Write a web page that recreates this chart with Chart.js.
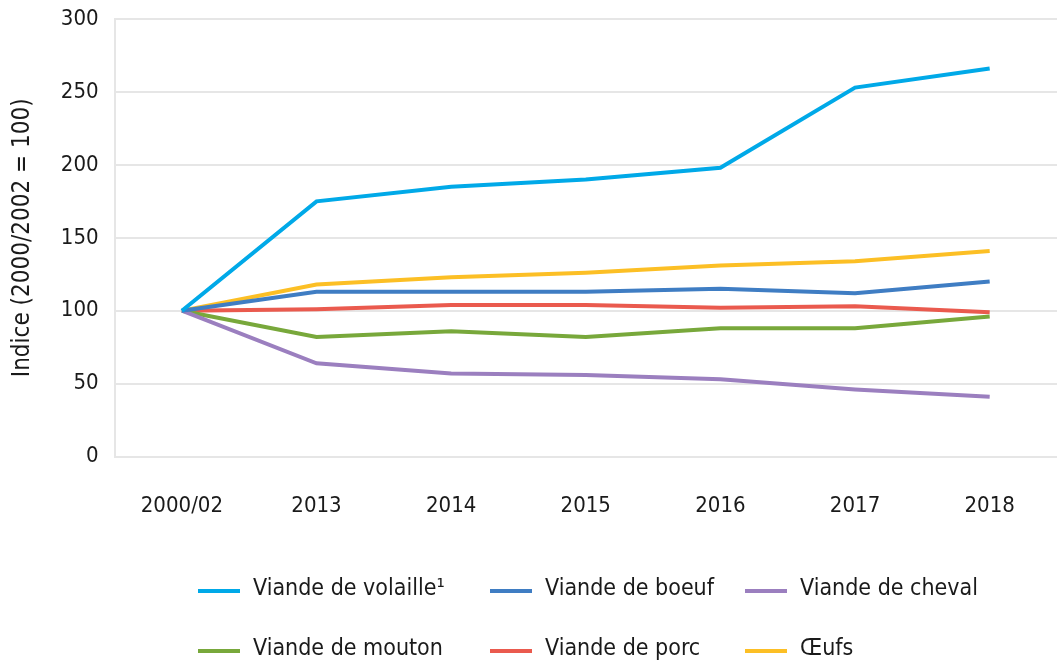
<!DOCTYPE html>
<html><head><meta charset="utf-8">
<script src="https://cdn.jsdelivr.net/npm/chart.js@4"></script>
<style>html,body{margin:0;padding:0;background:#fff;}#wrap{width:1057px;height:666px;position:relative;}</style>
</head><body>
<div id="wrap"><canvas id="c" width="1057" height="666"></canvas></div>
<script>
const categories = ['2000/02','2013','2014','2015','2016','2017','2018'];
const seriesNames = ['Viande de volaille\u00b9','Viande de boeuf','Viande de cheval','Viande de mouton','Viande de porc','\u0152ufs'];
const volaille = [100,175,185,190,198,253,266];
const boeuf = [100,113,113,113,115,112,120];
const cheval = [100,64,57,56,53,46,41];
const mouton = [100,82,86,82,88,88,96];
const porc = [100,101,104,104,102,103,99];
const oeufs = [100,118,123,126,131,134,141];
const yTicks = [0,50,100,150,200,250,300];
const colors = ['#00a9e8','#3f7dc3','#9b7fbf','#78a83b','#ea5a4e','#fcbf25'];
const FONT = "'Liberation Sans Narrow','DejaVu Sans Condensed',sans-serif";

const allSeries = [volaille,boeuf,cheval,mouton,porc,oeufs];
const datasets = allSeries.map((d,i)=>({label:seriesNames[i],data:d,borderColor:colors[i],backgroundColor:colors[i],borderWidth:4,pointRadius:0,tension:0,fill:false,order:i}));

const gridLegend = {
  id:'gridLegend',
  afterDraw(chart){
    const ctx = chart.ctx;
    const colX = [198,490,745];
    const rowY = [591,651];
    ctx.save();
    ctx.font = "23px " + FONT;
    ctx.textBaseline = 'middle';
    ctx.fillStyle = '#1a1a1a';
    chart.data.datasets.forEach((ds,i)=>{
      const x = colX[i%3], y = rowY[Math.floor(i/3)];
      ctx.strokeStyle = ds.borderColor;
      ctx.lineWidth = 4;
      ctx.beginPath(); ctx.moveTo(x,y); ctx.lineTo(x+42,y); ctx.stroke();
      ctx.fillText(ds.label, x+55, y-2);
    });
    ctx.restore();
  }
};

new Chart(document.getElementById('c'),{
  type:'line',
  data:{labels:categories,datasets:datasets},
  options:{
    responsive:false,animation:false,
    layout:{padding:{top:19,right:0,bottom:119,left:8}},
    plugins:{legend:{display:false},tooltip:{enabled:false}},
    scales:{
      x:{offset:true,grid:{display:false},border:{display:false},
         ticks:{color:'#1a1a1a',font:{family:FONT,size:22},padding:28,maxRotation:0}},
      y:{min:0,max:300,
         afterBuildTicks(ax){ax.ticks = yTicks.map(v=>({value:v}));},
         afterFit(ax){ax.paddingTop = 0; ax.paddingBottom = 0;},
         grid:{color:'#e6e6e6',lineWidth:2,drawTicks:false},
         border:{display:true,color:'#e6e6e6',width:2},
         ticks:{color:'#1a1a1a',font:{family:FONT,size:22},padding:16},
         title:{display:true,text:'Indice (2000/2002 = 100)',color:'#1a1a1a',font:{family:FONT,size:24},padding:{top:0,bottom:8}}}
    }
  },
  plugins:[gridLegend]
});
</script>
</body></html>
